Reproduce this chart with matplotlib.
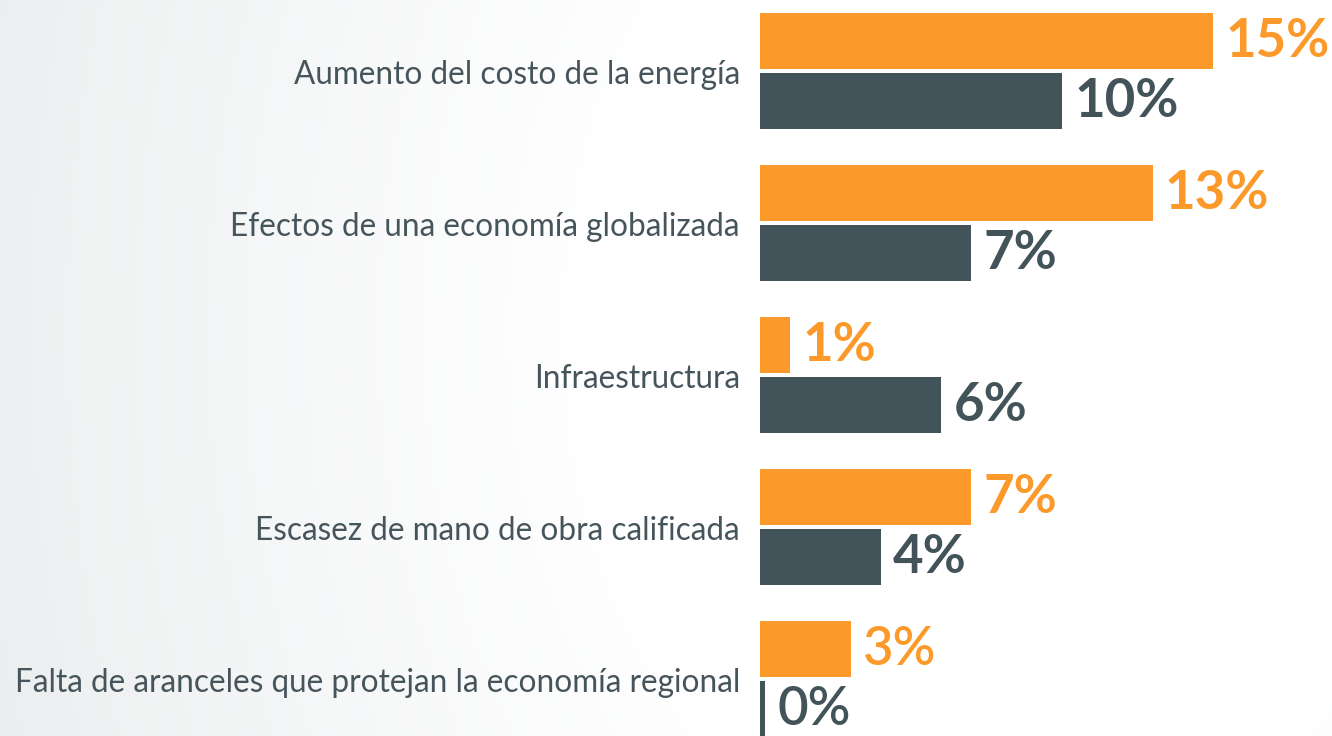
import numpy as np
import matplotlib.pyplot as plt

# data
categories = [
    "Aumento del costo de la energía",
    "Efectos de una economía globalizada",
    "Infraestructura",
    "Escasez de mano de obra calificada",
    "Falta de aranceles que protejan la economía regional",
]
serie_a = [15, 13, 1, 7, 3]   # orange
serie_b = [10, 7, 6, 4, 0]    # dark

ORANGE = "#FB9A2A"
DARK = "#43535A"
TEXT = "#46555B"

W, H = 1332, 736
fig = plt.figure(figsize=(W / 100, H / 100), dpi=100)

# background: soft gray at the left fading to white at the right
bg = fig.add_axes([0, 0, 1, 1], zorder=0)
yy, xx = np.mgrid[0:H, 0:W]
r = np.hypot((xx - 1000) / 1.0, (yy - 330) / 1.3)
t = np.clip((r - 380) / 700, 0, 1) ** 1.2
c0 = np.array([1.0, 1.0, 1.0])
c1 = np.array([0.918, 0.929, 0.933])
img = c0[None, None, :] * (1 - t[..., None]) + c1[None, None, :] * t[..., None]
bg.imshow(img, aspect="auto", extent=[0, W, H, 0])
bg.axis("off")

# bar axes: starts at x=760 px, ~30.2 px per percent, 152 px per group
x0 = 760
px_per = 30.2
ax = fig.add_axes([x0 / W, 0, (W - x0) / W, 1], zorder=1)
ax.patch.set_alpha(0)
ax.set_xlim(0, (W - x0) / px_per)
ax.set_ylim((H - 71.25) / 152, -71.25 / 152)

y = np.arange(len(categories))
off = 30 / 152
h = 56 / 152
ax.barh(y - off, serie_a, height=h, color=ORANGE)
# the 0% bar is still drawn as a thin stub
ax.barh(y + off, [max(v, 0.17) for v in serie_b], height=h, color=DARK)

for i, (a, b) in enumerate(zip(serie_a, serie_b)):
    wt = "bold" if i < 4 else "semibold"
    ax.text(max(a, 0.17) + 0.4, i - off, f"{a}%", color=ORANGE, fontsize=38,
            fontweight=wt, family="Lato", va="center", ha="left")
    ax.text(max(b, 0.17) + 0.4, i + off, f"{b}%", color=DARK, fontsize=38,
            fontweight=wt, family="Lato", va="center", ha="left")
    ax.text(-20 / px_per, i + 0.025, categories[i], color=TEXT, fontsize=22.7,
            family="Lato", va="center", ha="right")

ax.axis("off")

fig.savefig("out.png", dpi=100)
